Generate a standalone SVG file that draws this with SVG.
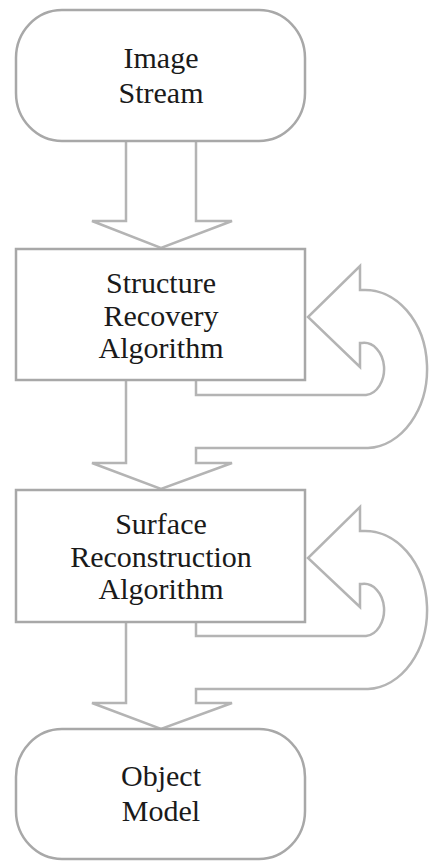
<svg xmlns="http://www.w3.org/2000/svg" width="430" height="861" viewBox="0 0 430 861">
<style>
.box{fill:#fff;stroke:#a8a8a8;stroke-width:2.5}
.conn{fill:#fff;stroke:#b4b4b4;stroke-width:2.5;stroke-linejoin:miter}
.t{font-family:"Liberation Serif","Times New Roman",serif;font-size:30px;fill:#1a1a1a;text-anchor:middle}
</style>
<rect width="430" height="861" fill="#fff"/>
<g id="connectors">
<path class="conn" d="M126 141 L126 221 L92 221 L161 248 L232 221 L196 221 L196 141"/>
<path class="conn" d="M126 380 L126 463 L92 463 L161 489 L232 463 L196 463 L196 448 L368 448 A62 79 0 0 0 362 290 L360 290 L360 266 L308 317 L360 367 L360 343 L362 343 A20 26 0 0 1 366 395 L196 395 L196 380"/>
<path class="conn" d="M126 622 L126 703 L92 703 L161 729 L232 703 L196 703 L196 689 L368 689 A62 79 0 0 0 362 531 L360 531 L360 507 L308 558 L360 607 L360 584 L362 584 A20 26 0 0 1 366 636 L196 636 L196 622"/>
</g>
<g id="image-stream">
<rect class="box" x="16" y="10" width="289" height="131" rx="46" ry="48"/>
<text class="t" x="161" y="68">Image</text>
<text class="t" x="161" y="103">Stream</text>
</g>
<g id="structure-recovery">
<rect class="box" x="16" y="249" width="289" height="131"/>
<text class="t" x="161" y="293">Structure</text>
<text class="t" x="161" y="326">Recovery</text>
<text class="t" x="161" y="358">Algorithm</text>
</g>
<g id="surface-reconstruction">
<rect class="box" x="16" y="490" width="289" height="132"/>
<text class="t" x="161" y="534">Surface</text>
<text class="t" x="161" y="567">Reconstruction</text>
<text class="t" x="161" y="599">Algorithm</text>
</g>
<g id="object-model">
<rect class="box" x="16" y="729" width="289" height="130" rx="46" ry="48"/>
<text class="t" x="161" y="786">Object</text>
<text class="t" x="161" y="821">Model</text>
</g>
</svg>
